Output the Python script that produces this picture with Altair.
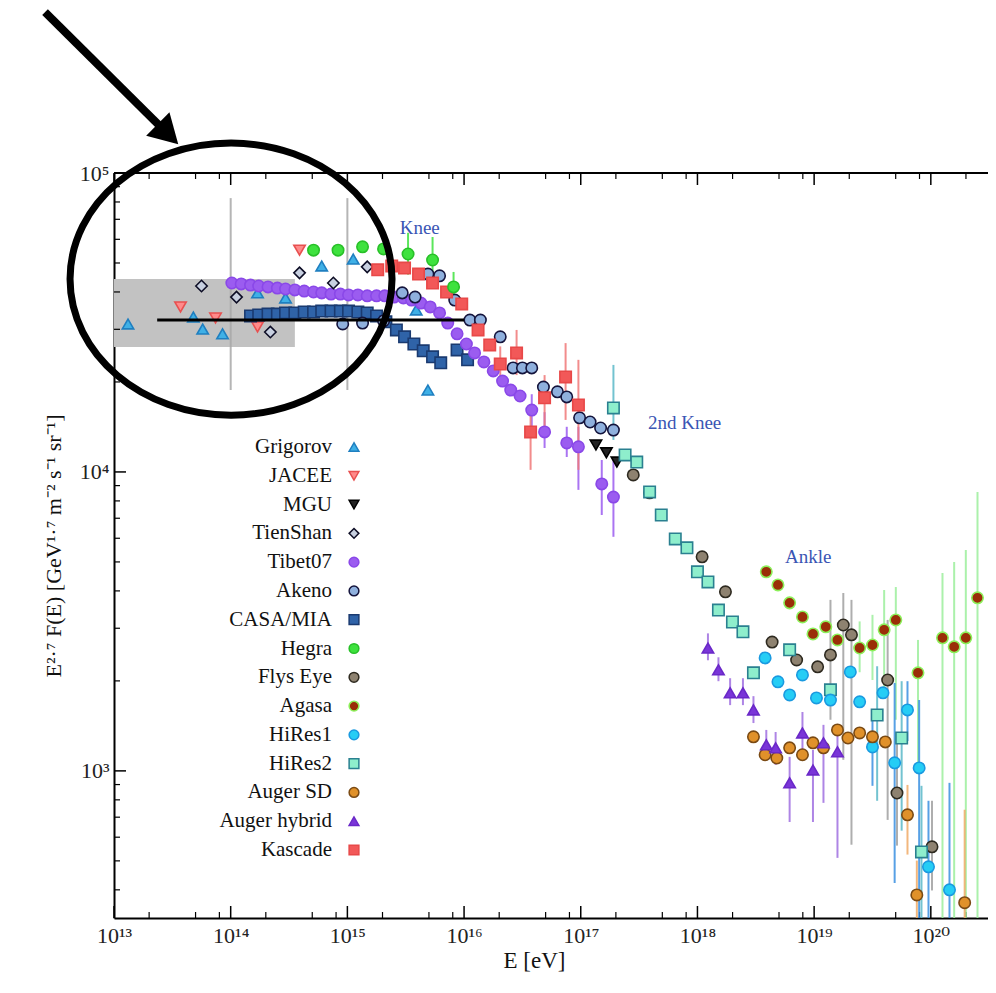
import altair as alt
import pandas as pd

# ---------------- data: log10(E/eV) and log10(E^2.7 F) ----------------
grigorov_logE = [13.12, 13.68, 13.76, 13.93, 14.23, 14.47, 14.78, 15.05, 15.59, 15.69]
grigorov_logF = [4.495, 4.518, 4.478, 4.462, 4.599, 4.582, 4.689, 4.712, 4.542, 4.274]

jacee_logE = [13.57, 13.87, 14.23, 14.59]
jacee_logF = [4.552, 4.515, 4.485, 4.742]

mgu_logE = [17.13, 17.22, 17.31]
mgu_logF = [4.090, 4.064, 4.033]

tienshan_logE = [13.75, 14.05, 14.34, 14.59, 14.88, 15.17]
tienshan_logF = [4.622, 4.585, 4.468, 4.666, 4.632, 4.686]

tibet_logE = [14.01, 14.09, 14.17, 14.24, 14.32, 14.40, 14.47, 14.55, 14.63, 14.71,
              14.78, 14.86, 14.94, 15.01, 15.09, 15.17, 15.25, 15.32, 15.40, 15.48,
              15.55, 15.63, 15.71, 15.79, 15.86, 15.94, 16.02, 16.09, 16.17, 16.25,
              16.33, 16.40, 16.48, 16.58, 16.69, 16.88, 16.98, 17.18, 17.28]
tibet_logF = [4.632, 4.629, 4.625, 4.622, 4.619, 4.615, 4.612, 4.609, 4.605, 4.602,
              4.599, 4.595, 4.595, 4.592, 4.592, 4.589, 4.589, 4.589, 4.585, 4.582,
              4.575, 4.565, 4.552, 4.532, 4.498, 4.462, 4.428, 4.398, 4.368, 4.338,
              4.304, 4.274, 4.254, 4.207, 4.134, 4.097, 4.084, 3.960, 3.916]

akeno_logE = [14.96, 15.13, 15.31, 15.47, 15.58, 15.69, 15.79, 15.92, 16.05, 16.14, 16.31,
              16.42, 16.50, 16.58, 16.68, 16.80, 16.88, 16.99, 17.08, 17.17, 17.28]
akeno_logF = [4.495, 4.498, 4.505, 4.599, 4.585, 4.662, 4.656, 4.575, 4.508, 4.508, 4.452,
              4.348, 4.348, 4.348, 4.284, 4.268, 4.251, 4.181, 4.167, 4.147, 4.140]

casa_logE = [14.17, 14.24, 14.32, 14.40, 14.47, 14.55, 14.63, 14.71, 14.78, 14.86,
             14.94, 15.01, 15.09, 15.17, 15.25, 15.33, 15.42, 15.49, 15.57, 15.65,
             15.73, 15.80, 15.94, 16.03]
casa_logF = [4.522, 4.525, 4.528, 4.528, 4.532, 4.532, 4.535, 4.535, 4.538, 4.538,
             4.538, 4.538, 4.535, 4.532, 4.522, 4.502, 4.475, 4.452, 4.428, 4.405,
             4.385, 4.365, 4.408, 4.375]

hegra_logE = [14.71, 14.92, 15.13, 15.31, 15.52, 15.73, 15.91]
hegra_logF = [4.742, 4.742, 4.753, 4.746, 4.729, 4.709, 4.619]

flys_logE = [17.45, 17.59, 18.04, 18.24, 18.64, 18.85, 19.03, 19.14, 19.25, 19.32, 19.63, 19.71, 20.01]
flys_logF = [3.990, 3.930, 3.716, 3.599, 3.431, 3.371, 3.348, 3.388, 3.488, 3.455, 3.304, 2.926, 2.746]

agasa_logE = [18.59, 18.69, 18.79, 18.90, 18.99, 19.10, 19.20, 19.39, 19.50, 19.60,
              19.70, 19.89, 20.10, 20.20, 20.30, 20.40]
agasa_logF = [3.666, 3.622, 3.562, 3.515, 3.458, 3.482, 3.438, 3.411, 3.421, 3.472,
              3.505, 3.328, 3.445, 3.415, 3.445, 3.579]

hires1_logE = [18.58, 18.69, 18.79, 18.90, 19.02, 19.14, 19.31, 19.39, 19.50, 19.59,
               19.69, 19.80, 19.90, 19.98, 20.16]
hires1_logF = [3.378, 3.298, 3.254, 3.321, 3.244, 3.237, 3.331, 3.231, 3.080, 3.261,
               3.027, 3.204, 3.010, 2.679, 2.602]

hires2_logE = [17.28, 17.38, 17.48, 17.59, 17.69, 17.81, 17.91, 18.00, 18.09, 18.18,
               18.30, 18.39, 18.48, 18.79, 19.14, 19.54, 19.75, 19.92]
hires2_logF = [4.214, 4.057, 4.033, 3.933, 3.856, 3.776, 3.746, 3.666, 3.632, 3.538,
               3.498, 3.465, 3.328, 3.405, 3.271, 3.187, 3.110, 2.729]

augersd_logE = [18.48, 18.58, 18.68, 18.79, 18.90, 18.99, 19.08, 19.20, 19.29, 19.39,
                19.50, 19.61, 19.80, 19.88, 20.29]
augersd_logF = [3.114, 3.054, 3.043, 3.077, 3.054, 3.094, 3.077, 3.137, 3.110, 3.127,
                3.114, 3.097, 2.853, 2.585, 2.559]

augerhy_logE = [18.09, 18.18, 18.28, 18.39, 18.48, 18.59, 18.67, 18.79, 18.90, 18.99, 19.08, 19.20]
augerhy_logF = [3.411, 3.338, 3.261, 3.261, 3.204, 3.087, 3.077, 2.960, 3.127, 3.003, 3.094, 3.064]

kascade_logE = [15.26, 15.38, 15.49, 15.61, 15.73, 15.85, 15.98, 16.12, 16.22, 16.31,
                16.45, 16.57, 16.69, 16.87, 16.98]
kascade_logF = [4.676, 4.689, 4.682, 4.662, 4.632, 4.602, 4.562, 4.475, 4.425, 4.361,
                4.398, 4.134, 4.248, 4.318, 4.224]

# error bars (log10 E, log10 low, log10 high)
tienshan_err_logE = [14.00, 15.00]
tienshan_err_lo = [4.274, 4.274]
tienshan_err_hi = [4.916, 4.916]

hegra_err_logE = [15.52, 15.73, 15.91]
hegra_err_lo = [4.660, 4.635, 4.575]
hegra_err_hi = [4.800, 4.786, 4.669]

tibet_err_logE = [16.58, 16.69, 16.88, 16.98, 17.18, 17.28]
tibet_err_lo = [4.150, 4.080, 4.050, 3.940, 3.856, 3.783]
tibet_err_hi = [4.260, 4.200, 4.151, 4.151, 4.040, 4.040]

kascade_err_logE = [16.31, 16.45, 16.57, 16.69, 16.87, 16.98]
kascade_err_lo = [4.300, 4.324, 4.007, 4.140, 4.174, 4.007]
kascade_err_hi = [4.420, 4.475, 4.224, 4.324, 4.431, 4.375]

flys_err_logE = [19.14, 19.25, 19.32, 19.63, 19.71, 20.01]
flys_err_lo = [3.171, 3.037, 2.753, 2.836, 2.750, 2.600]
flys_err_hi = [3.572, 3.595, 3.572, 3.505, 3.100, 2.900]

agasa_err_logE = [19.39, 19.50, 19.60, 19.70, 19.89, 20.10, 20.20, 20.30, 20.40]
agasa_err_lo = [3.330, 3.304, 3.271, 3.171, 3.003, 2.300, 2.300, 2.300, 2.300]
agasa_err_hi = [3.500, 3.522, 3.605, 3.615, 3.438, 3.662, 3.699, 3.739, 3.933]

hires1_err_logE = [19.50, 19.69, 19.80, 19.90, 19.98, 20.16]
hires1_err_lo = [2.950, 2.625, 3.100, 2.300, 2.300, 2.300]
hires1_err_hi = [3.200, 3.294, 3.300, 3.237, 2.900, 2.960]

hires2_err_logE = [17.28, 19.54, 19.75, 19.92]
hires2_err_lo = [4.107, 2.900, 2.800, 2.500]
hires2_err_hi = [4.358, 3.350, 3.300, 2.950]

augersd_err_logE = [19.80, 19.88, 20.29]
augersd_err_lo = [2.720, 2.450, 2.300]
augersd_err_hi = [2.953, 2.700, 2.870]

augerhy_err_logE = [18.09, 18.18, 18.28, 18.39, 18.48, 18.59, 18.67, 18.79, 18.90, 18.99, 19.08, 19.20]
augerhy_err_lo = [3.370, 3.300, 3.220, 3.220, 3.160, 3.037, 3.020, 2.829, 3.037, 2.829, 2.893, 2.709]
augerhy_err_hi = [3.460, 3.380, 3.310, 3.310, 3.250, 3.137, 3.130, 3.047, 3.197, 3.070, 3.154, 3.124]

# grey band and horizontal reference line
band_logE = [13.0, 14.55]
band_logF = [4.418, 4.645]
line_logE = [13.37, 16.0]
line_logF = 4.508

# annotations
notes_text = ["Knee", "2nd Knee", "Ankle"]
notes_logE = [15.62, 17.89, 18.95]
notes_logF = [4.816, 4.164, 3.716]

ellipse_logE = 14.003
ellipse_logF = 4.645
arrow_tail_logE, arrow_tail_logF = 12.409, 5.538
arrow_head_logE, arrow_head_logF = 13.463, 5.130

# ---------------- styles ----------------
names = ["Grigorov", "JACEE", "MGU", "TienShan", "Tibet07", "Akeno", "CASA/MIA", "Hegra",
         "Flys Eye", "Agasa", "HiRes1", "HiRes2", "Auger SD", "Auger hybrid", "Kascade"]
shapes = ["triangle-up", "triangle-down", "triangle-down", "diamond", "circle", "circle",
          "square", "circle", "circle", "circle", "circle", "square", "circle",
          "triangle-up", "square"]
fills = ["#3fb0e6", "#ff8a8a", "#222222", "#c8d0e0", "#9b5cf0", "#8fb0dd", "#2f63a8",
         "#3ee23e", "#8e8270", "#9a2e08", "#25cdf5", "#8eeecc", "#e0912a", "#7a35d8", "#f25858"]
strokes = ["#1f7fc0", "#e85050", "#000000", "#0d0d25", "#8a48e8", "#14143c", "#1a3a70",
           "#28c028", "#2e2a20", "#8cf05a", "#1a9ae0", "#2a8090", "#7a4a14", "#6a28c8", "#e84848"]

err_names = ["TienShan", "Hegra", "Tibet07", "Kascade", "Flys Eye", "Agasa", "HiRes1",
             "HiRes2", "Auger SD", "Auger hybrid"]
err_colors = ["#a8a8a8", "#3ee23e", "#9b5cf0", "#f07878", "#a0a0a0", "#9cef9c", "#3a8fe0",
              "#5ab8c8", "#f0aa66", "#a070e0"]
err_widths = [2, 2, 2, 2, 2.5, 5, 2.5, 2, 2.5, 2]

# ---------------- tables ----------------
series_data = [
    ("Grigorov", grigorov_logE, grigorov_logF), ("JACEE", jacee_logE, jacee_logF),
    ("CASA/MIA", casa_logE, casa_logF), ("Tibet07", tibet_logE, tibet_logF),
    ("Akeno", akeno_logE, akeno_logF), ("TienShan", tienshan_logE, tienshan_logF),
    ("Kascade", kascade_logE, kascade_logF), ("Hegra", hegra_logE, hegra_logF),
    ("MGU", mgu_logE, mgu_logF), ("Flys Eye", flys_logE, flys_logF),
    ("HiRes2", hires2_logE, hires2_logF), ("Agasa", agasa_logE, agasa_logF),
    ("HiRes1", hires1_logE, hires1_logF), ("Auger SD", augersd_logE, augersd_logF),
    ("Auger hybrid", augerhy_logE, augerhy_logF),
]
rows = []
for n, le, lf in series_data:
    for e, f in zip(le, lf):
        rows.append({"series": n, "E": 10 ** e, "F": 10 ** f})
points_df = pd.DataFrame(rows)

err_data = [
    ("TienShan", tienshan_err_logE, tienshan_err_lo, tienshan_err_hi),
    ("Hegra", hegra_err_logE, hegra_err_lo, hegra_err_hi),
    ("Tibet07", tibet_err_logE, tibet_err_lo, tibet_err_hi),
    ("Kascade", kascade_err_logE, kascade_err_lo, kascade_err_hi),
    ("Flys Eye", flys_err_logE, flys_err_lo, flys_err_hi),
    ("Agasa", agasa_err_logE, agasa_err_lo, agasa_err_hi),
    ("HiRes1", hires1_err_logE, hires1_err_lo, hires1_err_hi),
    ("HiRes2", hires2_err_logE, hires2_err_lo, hires2_err_hi),
    ("Auger SD", augersd_err_logE, augersd_err_lo, augersd_err_hi),
    ("Auger hybrid", augerhy_err_logE, augerhy_err_lo, augerhy_err_hi),
]
erows = []
for n, le, lo, hi in err_data:
    for e, a, b in zip(le, lo, hi):
        erows.append({"series": n, "E": 10 ** e, "lo": 10 ** a, "hi": 10 ** b})
err_df = pd.DataFrame(erows)

band_df = pd.DataFrame({"E": [10 ** band_logE[0]], "E2": [10 ** band_logE[1]],
                        "F": [10 ** band_logF[0]], "F2": [10 ** band_logF[1]]})
line_df = pd.DataFrame({"E": [10 ** line_logE[0]], "E2": [10 ** line_logE[1]], "F": [10 ** line_logF]})
notes_df = pd.DataFrame({"E": [10 ** v for v in notes_logE], "F": [10 ** v for v in notes_logF],
                         "text": notes_text})
ellipse_df = pd.DataFrame({"E": [10 ** ellipse_logE], "F": [10 ** ellipse_logF]})
arrow_df = pd.DataFrame({"E": [10 ** arrow_tail_logE], "E2": [10 ** arrow_head_logE],
                         "F": [10 ** arrow_tail_logF], "F2": [10 ** arrow_head_logF]})
head_df = pd.DataFrame({"E": [10 ** arrow_head_logE], "F": [10 ** arrow_head_logF]})

x_major = [10.0 ** k for k in range(13, 21)]
x_minor = [m * 10.0 ** k for k in range(13, 21) for m in (2, 5, 8) if m * 10.0 ** k < 10 ** 20.49]
y_major = [1e3, 1e4, 1e5]
y_minor = [m * 10.0 ** k for k in range(2, 5) for m in range(2, 10) if m * 10.0 ** k > 322]
xmaj_df = pd.DataFrame({"E": x_major})
xmin_df = pd.DataFrame({"E": x_minor})
ymaj_df = pd.DataFrame({"F": y_major})
ymin_df = pd.DataFrame({"F": y_minor})
frame_df = pd.DataFrame({"k": [0]})
legend_df = pd.DataFrame({"series": names, "idx": list(range(len(names)))})

# ---------------- encodings ----------------
W, H = 874, 745
FONT = "Liberation Serif"
LABEL_FONT = "Liberation Serif, DejaVu Serif"
xscale = alt.Scale(type="log", domain=[1e13, 10 ** 20.49], nice=False)
yscale = alt.Scale(type="log", domain=[322, 1e5], nice=False)
xaxis = alt.Axis(values=x_major, ticks=False, grid=False, labelFlush=False, labelOverlap=False,
                 labelExpr="['10\u00b9\u00b3','10\u00b9\u2074','10\u00b9\u2075','10\u00b9\u2076','10\u00b9\u2077','10\u00b9\u2078','10\u00b9\u2079','10\u00b2\u2070'][round(log(datum.value)/LN10)-13]",
                 labelPadding=7, titlePadding=3, titleX=420, titleFontSize=23)
yaxis = alt.Axis(values=y_major, ticks=False, grid=False, labelFlush=False, labelOverlap=False,
                 labelExpr="['10\u00b3','10\u2074','10\u2075'][round(log(datum.value)/LN10)-3]",
                 labelPadding=5, titlePadding=14)
XT = "E  [eV]"
YT = "E\u00b2\u00b7\u2077 F(E) [GeV\u00b9\u00b7\u2077 m\u207b\u00b2 s\u207b\u00b9 sr\u207b\u00b9]"


def X(f):
    return alt.X(f, scale=xscale, axis=xaxis, title=XT)


def Y(f):
    return alt.Y(f, scale=yscale, axis=yaxis, title=YT)


fill_enc = alt.Fill("series:N", scale=alt.Scale(domain=names, range=fills), legend=None)
stroke_enc = alt.Stroke("series:N", scale=alt.Scale(domain=names, range=strokes), legend=None)
shape_enc = alt.Shape("series:N", scale=alt.Scale(domain=names, range=shapes), legend=None)

band = alt.Chart(band_df).mark_rect(color="#c2c2c2").encode(x=X("E:Q"), x2="E2:Q", y=Y("F:Q"), y2="F2:Q")

errs = alt.Chart(err_df).mark_rule(clip=True, opacity=0.85).encode(
    x=X("E:Q"), y=Y("lo:Q"), y2="hi:Q",
    color=alt.Color("series:N", scale=alt.Scale(domain=err_names, range=err_colors), legend=None),
    strokeWidth=alt.StrokeWidth("series:N", scale=alt.Scale(domain=err_names, range=err_widths), legend=None),
)

pts = alt.Chart(points_df).mark_point(filled=True, size=130, strokeWidth=1.6, opacity=1).encode(
    x=X("E:Q"), y=Y("F:Q"), fill=fill_enc, stroke=stroke_enc, shape=shape_enc)

hline = alt.Chart(line_df).mark_rule(color="black", strokeWidth=3).encode(x=X("E:Q"), x2="E2:Q", y=Y("F:Q"))

notes = alt.Chart(notes_df).mark_text(font=FONT, fontSize=19, color="#3a55b4").encode(
    x=X("E:Q"), y=Y("F:Q"), text="text:N")

tick_x_bot_maj = alt.Chart(xmaj_df).mark_rule(color="black", strokeWidth=1.5).encode(
    x=X("E:Q"), y=alt.value(H), y2=alt.value(H - 12))
tick_x_bot_min = alt.Chart(xmin_df).mark_rule(color="black", strokeWidth=1.2).encode(
    x=X("E:Q"), y=alt.value(H), y2=alt.value(H - 6))
tick_x_top_maj = alt.Chart(xmaj_df).mark_rule(color="black", strokeWidth=1.5).encode(
    x=X("E:Q"), y=alt.value(0), y2=alt.value(12))
tick_x_top_min = alt.Chart(xmin_df).mark_rule(color="black", strokeWidth=1.2).encode(
    x=X("E:Q"), y=alt.value(0), y2=alt.value(6))
tick_y_maj = alt.Chart(ymaj_df).mark_rule(color="black", strokeWidth=1.5).encode(
    y=Y("F:Q"), x=alt.value(0), x2=alt.value(12))
tick_y_min = alt.Chart(ymin_df).mark_rule(color="black", strokeWidth=1.2).encode(
    y=Y("F:Q"), x=alt.value(0), x2=alt.value(6))
top_frame = alt.Chart(frame_df).mark_rule(color="black", strokeWidth=2).encode(
    x=alt.value(0), x2=alt.value(W), y=alt.value(0))

ellipse = alt.Chart(ellipse_df).mark_point(
    shape="M-1,0A1,0.845,0,1,1,1,0A1,0.845,0,1,1,-1,0Z", size=103684, filled=False,
    color="black", strokeWidth=7, opacity=1).encode(x=X("E:Q"), y=Y("F:Q"))
arrow = alt.Chart(arrow_df).mark_rule(color="black", strokeWidth=8).encode(
    x=X("E:Q"), x2="E2:Q", y=Y("F:Q"), y2="F2:Q")
head = alt.Chart(head_df).mark_point(shape="triangle-up", size=1100, angle=134.6, filled=True,
                                     color="black", opacity=1).encode(x=X("E:Q"), y=Y("F:Q"))

main = alt.layer(band, tick_x_bot_maj, tick_x_bot_min, tick_x_top_maj, tick_x_top_min,
                 tick_y_maj, tick_y_min, top_frame, errs, pts, hline, notes, ellipse, arrow, head)

leg_y = alt.Y("idx:Q", scale=alt.Scale(domain=[0, 14], range=[274, 677]), axis=None)
leg_text = alt.Chart(legend_df).mark_text(align="right", baseline="middle", font=FONT,
                                           fontSize=21, color="#111111").encode(
    x=alt.value(218), y=leg_y, text="series:N")
leg_sym = alt.Chart(legend_df).mark_point(filled=True, size=95, strokeWidth=1.5, opacity=1).encode(
    x=alt.value(240), y=leg_y, fill=fill_enc, stroke=stroke_enc, shape=shape_enc)
leg = alt.layer(leg_text, leg_sym)

chart = alt.layer(main, leg).resolve_scale(y="independent").properties(
    width=W, height=H,
    autosize=alt.AutoSizeParams(type="none"),
    padding={"left": 106, "top": 165, "right": 0, "bottom": 66},
).configure_view(stroke=None).configure_axis(
    labelFont=LABEL_FONT, labelFontSize=22, labelColor="#222222", titleFont=FONT, titleFontSize=22,
    titleFontWeight="normal", titleColor="#111111", domainColor="black", domainWidth=2,
)

chart.save("out.html", embed_options={"renderer": "svg", "actions": False})
